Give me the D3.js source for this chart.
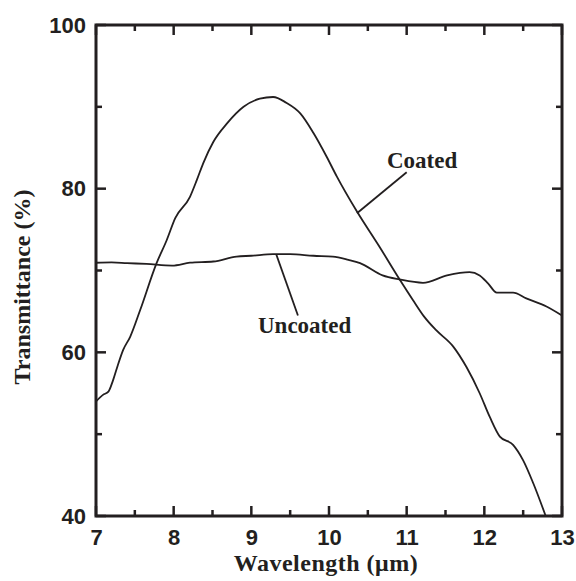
<!DOCTYPE html>
<html>
<head>
<meta charset="utf-8">
<script src="https://cdn.jsdelivr.net/npm/d3@7"></script>
<style>
  body { margin: 0; background: #fff; }
  .tick text { font-family: "Liberation Sans", Arial, sans-serif; font-weight: bold; font-size: 22px; fill: #231f20; }
</style>
</head>
<body>
<script>
// data
var coatedWl = [7.0, 7.09, 7.16, 7.22, 7.28, 7.35, 7.44, 7.57, 7.78, 7.91, 8.02, 8.21, 8.30, 8.38, 8.51, 8.69, 8.90, 9.11, 9.28, 9.45, 9.63, 9.80, 9.97, 10.10, 10.36, 10.65, 10.91, 11.08, 11.23, 11.38, 11.60, 11.77, 11.94, 12.07, 12.20, 12.37, 12.50, 12.63, 12.79];
var coatedT = [54.0, 54.8, 55.2, 56.6, 58.4, 60.3, 61.9, 65.2, 70.9, 73.7, 76.4, 79.0, 81.1, 83.1, 85.7, 88.0, 90.0, 91.0, 91.2, 90.5, 89.2, 86.8, 83.9, 81.5, 77.2, 72.9, 68.9, 66.4, 64.3, 62.7, 60.7, 58.2, 55.0, 52.1, 49.7, 48.7, 46.8, 44.0, 40.0];

var uncoatedWl = [7.0, 7.2, 7.4, 7.65, 7.98, 8.21, 8.51, 8.81, 9.0, 9.28, 9.5, 9.8, 10.05, 10.25, 10.40, 10.69, 10.91, 11.21, 11.52, 11.81, 11.94, 12.05, 12.16, 12.37, 12.54, 12.80, 13.0];
var uncoatedT = [70.95, 71.0, 70.9, 70.8, 70.6, 70.95, 71.1, 71.7, 71.8, 72.0, 72.0, 71.8, 71.7, 71.3, 70.9, 69.4, 68.9, 68.5, 69.4, 69.8, 69.4, 68.4, 67.3, 67.3, 66.6, 65.6, 64.5];

var xTicks = [7, 8, 9, 10, 11, 12, 13];
var xMinor = [7.5, 8.5, 9.5, 10.5, 11.5, 12.5];
var yTicks = [40, 60, 80, 100];
var yMinor = [50, 70, 90];

var W = 576, H = 581;
var pL = 96, pR = 562, pT = 25, pB = 516;
var ink = "#231f20";
var serif = "'Liberation Serif', 'Times New Roman', serif";

var svg = d3.select("body").append("svg").attr("width", W).attr("height", H);

var x = d3.scaleLinear().domain([7, 13]).range([pL, pR]);
var y = d3.scaleLinear().domain([40, 100]).range([pB, pT]);

// frame
svg.append("rect").attr("x", pL).attr("y", pT).attr("width", pR - pL).attr("height", pB - pT)
  .attr("fill", "none").attr("stroke", ink).attr("stroke-width", 3);

// inward ticks on all four sides (majors 10px, minors 6px)
var tg = svg.append("g");
function xt(vals, len) {
  vals.forEach(function(v) {
    tg.append("line").attr("x1", x(v)).attr("x2", x(v)).attr("y1", pB).attr("y2", pB - len)
      .style("stroke", ink).style("stroke-width", "2.5px");
    tg.append("line").attr("x1", x(v)).attr("x2", x(v)).attr("y1", pT).attr("y2", pT + len)
      .style("stroke", ink).style("stroke-width", "2.5px");
  });
}
function yt(vals, len) {
  vals.forEach(function(v) {
    tg.append("line").attr("y1", y(v)).attr("y2", y(v)).attr("x1", pL).attr("x2", pL + len)
      .style("stroke", ink).style("stroke-width", "2.5px");
    tg.append("line").attr("y1", y(v)).attr("y2", y(v)).attr("x1", pR).attr("x2", pR - len)
      .style("stroke", ink).style("stroke-width", "2.5px");
  });
}
xt(xTicks, 10); xt(xMinor, 6);
yt(yTicks, 10); yt(yMinor, 6);

// tick labels
var gx = svg.append("g").attr("transform", "translate(0," + pB + ")")
  .call(d3.axisBottom(x).tickValues(xTicks).tickFormat(d3.format("d")).tickSize(0).tickPadding(13));
gx.select(".domain").remove();
var gy = svg.append("g").attr("transform", "translate(" + pL + ",0)")
  .call(d3.axisLeft(y).tickValues(yTicks).tickFormat(d3.format("d")).tickSize(0).tickPadding(10));
gy.select(".domain").remove();

// curves
svg.append("clipPath").attr("id", "plot")
  .append("rect").attr("x", pL).attr("y", pT).attr("width", pR - pL).attr("height", pB - pT);

var line = d3.line().x(function(d) { return x(d[0]); }).y(function(d) { return y(d[1]); })
  .curve(d3.curveMonotoneX);

svg.append("path").datum(d3.zip(coatedWl, coatedT))
  .attr("d", line).attr("fill", "none").attr("stroke", ink).attr("stroke-width", 1.8)
  .attr("clip-path", "url(#plot)");
svg.append("path").datum(d3.zip(uncoatedWl, uncoatedT))
  .attr("d", line).attr("fill", "none").attr("stroke", ink).attr("stroke-width", 1.8)
  .attr("clip-path", "url(#plot)");

// annotations
svg.append("line").attr("x1", x(10.36)).attr("y1", y(77.0)).attr("x2", x(11.0)).attr("y2", y(82.0))
  .attr("stroke", ink).attr("stroke-width", 1.8);
svg.append("text").attr("x", 387).attr("y", 168).text("Coated")
  .attr("font-family", serif).attr("font-weight", "bold").attr("font-size", 23).attr("fill", ink);

svg.append("line").attr("x1", x(9.32)).attr("y1", y(72.0)).attr("x2", x(9.6)).attr("y2", y(64.5))
  .attr("stroke", ink).attr("stroke-width", 1.8);
svg.append("text").attr("x", 258).attr("y", 333).text("Uncoated")
  .attr("font-family", serif).attr("font-weight", "bold").attr("font-size", 23).attr("fill", ink);

// axis titles
svg.append("text").attr("x", 326).attr("y", 571).attr("text-anchor", "middle")
  .text("Wavelength (μm)").attr("letter-spacing", 0.5)
  .attr("font-family", serif).attr("font-weight", "bold").attr("font-size", 24).attr("fill", ink);
svg.append("text").attr("transform", "translate(30,287) rotate(-90)").attr("text-anchor", "middle")
  .text("Transmittance (%)")
  .attr("font-family", serif).attr("font-weight", "bold").attr("font-size", 24).attr("fill", ink);
</script>
</body>
</html>
